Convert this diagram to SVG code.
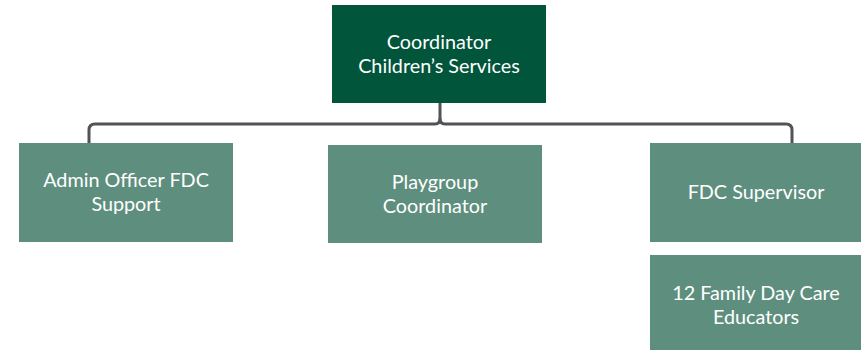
<svg xmlns="http://www.w3.org/2000/svg" width="861" height="351" viewBox="0 0 861 351">
<style>
.top{fill:#00553a}
.box{fill:#5e8f7e}
.t{fill:#ffffff;font-family:Lato,"Open Sans",sans-serif;font-size:19.8px;text-anchor:middle}
.c{fill:none;stroke:#505357;stroke-width:3;stroke-linejoin:round}
</style>
<rect width="861" height="351" fill="#ffffff"/>
<g id="connectors">
<path class="c" d="M89,143 V130 Q89,124 95,124 H435 Q440,124 440,118 V103"/>
<path class="c" d="M792,143 V130 Q792,124 786,124 H445 Q440,124 440,118"/>
</g>
<g id="coordinator">
<rect class="top" x="332" y="5" width="214" height="98"/>
<text class="t" x="439" y="49">Coordinator</text>
<text class="t" x="439" y="73">Children’s Services</text>
</g>
<g id="admin">
<rect class="box" x="19" y="143" width="214" height="99"/>
<text class="t" x="126" y="187">Admin Officer FDC</text>
<text class="t" x="126" y="211">Support</text>
</g>
<g id="playgroup">
<rect class="box" x="328" y="145" width="214" height="98"/>
<text class="t" x="435" y="189">Playgroup</text>
<text class="t" x="435" y="213">Coordinator</text>
</g>
<g id="fdc-supervisor">
<rect class="box" x="650" y="143" width="214" height="99"/>
<text class="t" x="756" y="199">FDC Supervisor</text>
</g>
<g id="educators">
<rect class="box" x="650" y="255" width="214" height="95"/>
<text class="t" x="756" y="300">12 Family Day Care</text>
<text class="t" x="756" y="324">Educators</text>
</g>
</svg>
